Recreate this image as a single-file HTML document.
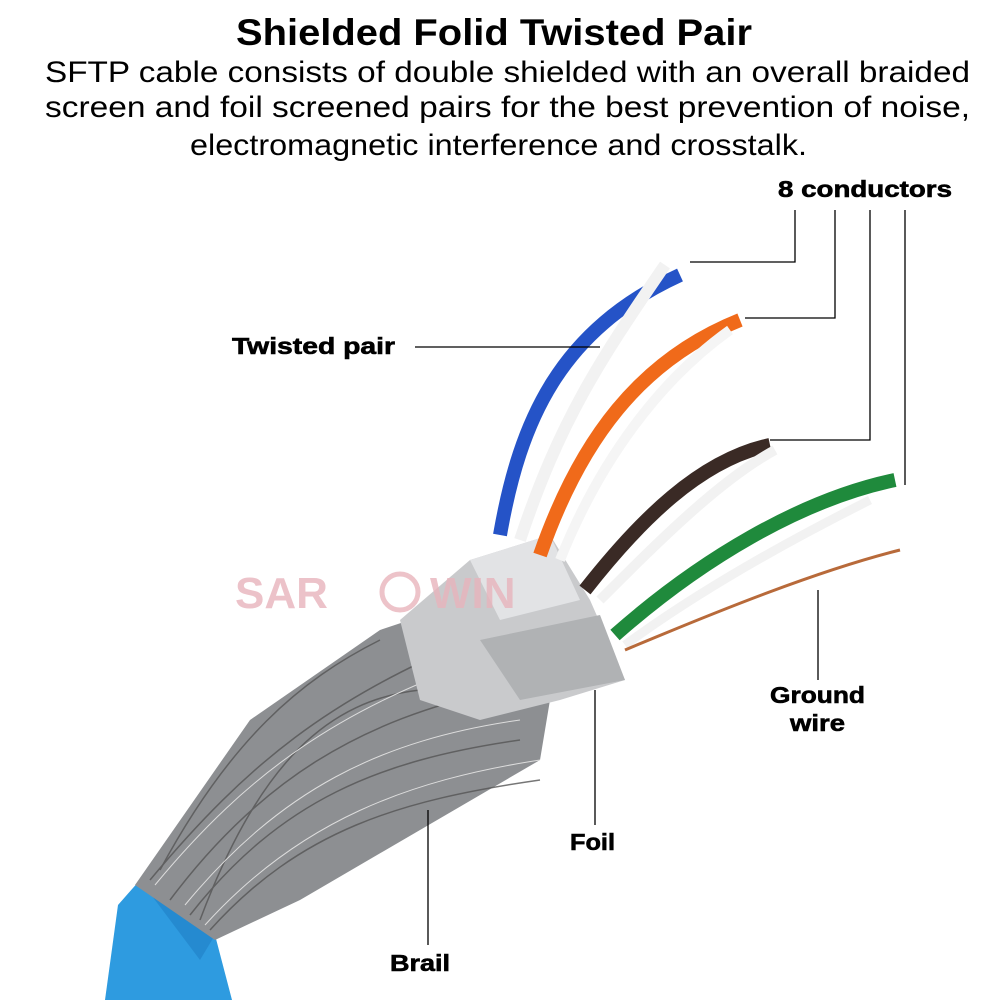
<!DOCTYPE html>
<html><head><meta charset="utf-8"><style>
html,body{margin:0;padding:0;background:#fff;}
svg{display:block}
text{font-family:"Liberation Sans",sans-serif;}
</style></head><body>
<svg width="1000" height="1000" viewBox="0 0 1000 1000" xmlns="http://www.w3.org/2000/svg">
<rect width="1000" height="1000" fill="#fff"/>
<text x="236" y="45" font-size="37" font-weight="bold" textLength="516" lengthAdjust="spacingAndGlyphs">Shielded Folid Twisted Pair</text>
<text x="45" y="82" font-size="30" textLength="925" lengthAdjust="spacingAndGlyphs">SFTP cable consists of double shielded with an overall braided</text>
<text x="45" y="117" font-size="30" textLength="925" lengthAdjust="spacingAndGlyphs">screen and foil screened pairs for the best prevention of noise,</text>
<text x="190" y="155" font-size="30" textLength="617" lengthAdjust="spacingAndGlyphs">electromagnetic interference and crosstalk.</text>

<polygon points="118,905 140,880 215,935 232,1000 105,1000" fill="#2e9be0"/>
<polygon points="140,880 180,890 215,935 200,960" fill="#1f7fc4" opacity="0.6"/>
<polygon points="135,885 250,720 380,630 470,600 560,640 540,760 300,900 215,940" fill="#8d8f92"/>
<g stroke="#555" stroke-width="1.5" fill="none" opacity="0.8">
<path d="M150,880 C250,760 330,700 470,640"/><path d="M170,900 C260,780 360,720 500,690"/>
<path d="M190,915 C280,800 380,760 520,740"/><path d="M210,930 C300,830 400,800 540,780"/>
<path d="M160,870 C230,740 300,680 380,640"/><path d="M200,920 C260,760 330,700 420,690"/>
</g>
<g stroke="#ddd" stroke-width="1" fill="none">
<path d="M155,885 C250,770 340,710 480,660"/><path d="M185,905 C280,790 380,740 520,720"/>
<path d="M205,925 C300,820 410,780 540,760"/>
</g>
<polygon points="400,620 470,560 550,535 590,600 625,680 560,700 480,720 420,700" fill="#c9cacc"/>
<polygon points="470,560 550,535 580,600 500,620" fill="#e2e3e5"/>
<polygon points="480,640 600,615 625,680 520,700" fill="#b0b2b4"/>
<path d="M500,535 C520,420 560,330 680,275" stroke="#2553c7" stroke-width="14" fill="none"/>
<path d="M520,540 C560,420 600,360 665,265" stroke="#f2f2f2" stroke-width="12" fill="none"/>
<path d="M540,555 C580,440 640,360 740,320" stroke="#f06a1a" stroke-width="14" fill="none"/>
<path d="M560,560 C600,460 660,380 730,330" stroke="#f5f5f5" stroke-width="10" fill="none"/>
<path d="M585,590 C640,520 700,460 770,445" stroke="#3a2a25" stroke-width="14" fill="none"/>
<path d="M600,600 C660,540 720,480 775,450" stroke="#f2f2f2" stroke-width="10" fill="none"/>
<path d="M615,635 C700,560 800,500 895,480" stroke="#1f8a3c" stroke-width="14" fill="none"/>
<path d="M625,645 C700,590 790,540 870,500" stroke="#f2f2f2" stroke-width="9" fill="none"/>
<path d="M625,650 C720,610 820,570 900,550" stroke="#b86a3a" stroke-width="3" fill="none"/>
<text x="235" y="608" font-size="44" font-weight="bold" fill="#e8b4bc" opacity="0.8">SAR</text>
<text x="430" y="608" font-size="44" font-weight="bold" fill="#e8b4bc" opacity="0.8">WIN</text>
<circle cx="400" cy="592" r="18" fill="none" stroke="#e8b4bc" stroke-width="5" opacity="0.8"/>

<g stroke="#000" stroke-width="1.3" fill="none">
<polyline points="795,210 795,262 690,262"/>
<polyline points="835,210 835,318 745,318"/>
<polyline points="870,210 870,440 770,440"/>
<polyline points="905,210 905,485"/>
<line x1="415" y1="347" x2="600" y2="347"/>
<line x1="818" y1="590" x2="818" y2="680"/>
<line x1="595" y1="690" x2="595" y2="825"/>
<line x1="428" y1="810" x2="428" y2="945"/>
</g>
<g font-weight="bold" font-size="23" stroke="#000" stroke-width="0.6">
<text x="778" y="197" textLength="174" lengthAdjust="spacingAndGlyphs">8 conductors</text>
<text x="232" y="354" textLength="163" lengthAdjust="spacingAndGlyphs">Twisted pair</text>
<text x="770" y="703" textLength="95" lengthAdjust="spacingAndGlyphs">Ground</text>
<text x="790" y="731" textLength="55" lengthAdjust="spacingAndGlyphs">wire</text>
<text x="570" y="850" textLength="45" lengthAdjust="spacingAndGlyphs">Foil</text>
<text x="390" y="971" textLength="60" lengthAdjust="spacingAndGlyphs">Brail</text>
</g>
</svg>
</body></html>
